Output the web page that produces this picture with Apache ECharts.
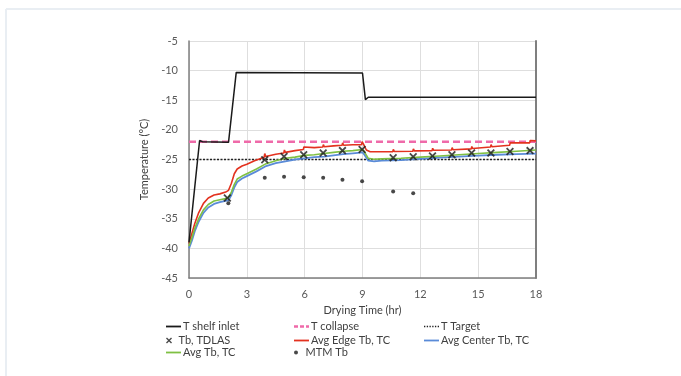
<!DOCTYPE html>
<html>
<head>
<meta charset="utf-8">
<script src="https://cdn.jsdelivr.net/npm/echarts@6/dist/echarts.min.js"></script>
<style>html,body{margin:0;padding:0;background:#fff;}#c{width:681px;height:376px;}</style>
</head>
<body>
<div id="c"></div>
<script>
// ---- data (time in hr, temperature in °C) ----
const xTicks = [0, 3, 6, 9, 12, 15, 18];
const yTicks = [-45, -40, -35, -30, -25, -20, -15, -10, -5];

const shelfInlet = [[0,-39.0],[0.55,-21.8],[0.7,-22.0],[2.05,-22.1],[2.45,-10.3],[9.0,-10.4],[9.15,-14.9],[9.3,-14.5],[18,-14.5]];
const tCollapse = [[0,-22],[18,-22]];
const tTarget = [[0,-25],[18,-25]];
const tdlas = [[1.99,-31.5],[3.93,-25.05],[4.93,-24.5],[5.95,-24.2],[6.96,-23.9],[7.96,-23.5],[8.98,-23.3],[10.59,-24.7],[11.63,-24.55],[12.63,-24.4],[13.64,-24.2],[14.66,-23.9],[15.66,-23.9],[16.65,-23.65],[17.69,-23.5]];
const edgeTC = [[0,-39.2],[0.15,-37.5],[0.3,-35.8],[0.5,-34.0],[0.75,-32.4],[1.0,-31.5],[1.3,-31.0],[1.6,-30.8],[1.9,-30.5],[2.05,-30.2],[2.2,-29.0],[2.35,-27.4],[2.5,-26.6],[2.75,-26.1],[3.0,-25.8],[3.4,-25.2],[3.9,-24.6],[3.93,-24.0],[3.98,-24.5],[4.5,-24.1],[4.92,-23.9],[4.95,-23.4],[5.0,-23.8],[5.5,-23.5],[5.93,-23.3],[5.96,-22.9],[6.01,-23.2],[6.5,-23.0],[6.94,-22.9],[6.97,-22.5],[7.02,-22.85],[7.5,-22.7],[7.94,-22.6],[7.97,-22.2],[8.02,-22.6],[8.5,-22.5],[8.95,-22.5],[8.98,-22.0],[9.05,-22.4],[9.2,-23.4],[9.4,-23.7],[10.0,-23.7],[10.57,-23.7],[10.6,-23.3],[10.65,-23.65],[11.61,-23.6],[11.64,-23.2],[11.69,-23.55],[12.61,-23.5],[12.64,-23.1],[12.69,-23.45],[13.62,-23.4],[13.65,-23.0],[13.7,-23.35],[14.64,-23.2],[14.67,-22.8],[14.72,-23.15],[15.64,-22.9],[15.67,-22.5],[15.72,-22.85],[16.63,-22.6],[16.66,-22.2],[16.71,-22.5],[17.67,-22.2],[17.7,-21.8],[17.75,-22.1],[18,-21.85]];
const centerTC = [[0,-40.0],[0.15,-38.7],[0.3,-37.1],[0.5,-35.5],[0.75,-34.0],[1.0,-33.1],[1.3,-32.5],[1.6,-32.2],[1.9,-32.0],[2.05,-31.9],[2.2,-31.0],[2.35,-29.7],[2.5,-28.8],[2.75,-28.2],[3.0,-27.8],[3.5,-27.0],[4.0,-26.1],[4.5,-25.6],[5.0,-25.3],[5.5,-25.0],[6.0,-24.8],[6.5,-24.6],[7.0,-24.5],[7.5,-24.3],[8.0,-24.1],[8.5,-23.95],[9.0,-23.8],[9.1,-24.2],[9.3,-25.2],[9.6,-25.3],[10,-25.2],[11,-25.1],[12,-24.9],[13,-24.7],[14,-24.5],[15,-24.35],[16,-24.2],[17,-24.1],[18,-24.0]];
const avgTC = [[0,-39.6],[0.15,-38.2],[0.3,-36.6],[0.5,-35.0],[0.75,-33.5],[1.0,-32.6],[1.3,-32.0],[1.6,-31.8],[1.9,-31.6],[2.05,-31.4],[2.2,-30.5],[2.35,-29.2],[2.5,-28.3],[2.75,-27.8],[3.0,-27.4],[3.5,-26.6],[4.0,-25.7],[4.5,-25.2],[5.0,-24.8],[5.5,-24.6],[6.0,-24.3],[6.5,-24.2],[7.0,-24.0],[7.5,-23.8],[8.0,-23.6],[8.5,-23.5],[9.0,-23.3],[9.1,-23.7],[9.3,-24.8],[9.6,-24.95],[10,-24.9],[11,-24.8],[12,-24.6],[13,-24.4],[14,-24.2],[15,-24.0],[16,-23.8],[17,-23.6],[18,-23.4]];
const mtm = [[2.04,-32.4],[3.93,-28.1],[4.93,-27.9],[5.95,-28.0],[6.96,-28.1],[7.96,-28.4],[8.98,-28.65],[10.59,-30.4],[11.63,-30.7]];

const seriesNames = ['T shelf inlet','T collapse','T Target','Tb, TDLAS','Avg Edge Tb, TC','Avg Center Tb, TC','Avg Tb, TC','MTM Tb'];

const XPATH = 'path://M0,1.6 L1.6,0 L5,3.4 L8.4,0 L10,1.6 L6.6,5 L10,8.4 L8.4,10 L5,6.6 L1.6,10 L0,8.4 L3.4,5 Z';
const SOLID = 'path://M0,0 H15 V1.8 H0 Z';
const DASHED = 'path://M0,0 H4 V2.4 H0 Z M6,0 H10 V2.4 H6 Z M12,0 H15 V2.4 H12 Z';
const DOTTED = 'path://M0,0h1.3v1.5h-1.3z M2.7,0h1.3v1.5h-1.3z M5.4,0h1.3v1.5h-1.3z M8.1,0h1.3v1.5h-1.3z M10.8,0h1.3v1.5h-1.3z M13.5,0h1.3v1.5h-1.3z';
const FONT = 'Lato, "Open Sans", sans-serif';

// legend layout: [left, top, icon, itemHeight]
const legendLayout = [
  [166, 321, SOLID, 10], [294, 321, DASHED, 10], [424, 321, DOTTED, 10],
  [166, 335, XPATH, 6], [294, 335, SOLID, 10], [424, 335, SOLID, 10],
  [166, 347, SOLID, 10], [294, 347, 'circle', 4]
];

const legends = seriesNames.map((n, i) => {
  const L = legendLayout[i];
  return {
    data: [{name: n, icon: L[2]}],
    left: L[0], top: L[1],
    itemWidth: 15, itemHeight: L[3], itemGap: 0, padding: 0,
    selectedMode: false,
    textStyle: {fontFamily: FONT, fontSize: 11, color: '#404040', padding: [0,0,0,-3]}
  };
});

const chart = echarts.init(document.getElementById('c'), null, {renderer: 'canvas'});
chart.setOption({
  backgroundColor: '#ffffff',
  animation: false,
  graphic: [
    {type: 'line', shape: {x1: 6, y1: 9, x2: 681, y2: 9}, style: {stroke: '#e9eef3', lineWidth: 2}},
    {type: 'line', shape: {x1: 6, y1: 9, x2: 6, y2: 376}, style: {stroke: '#e9eef3', lineWidth: 2}}
  ],
  grid: {left: 189, right: 145, top: 41, bottom: 98, containLabel: false},
  legend: legends,
  xAxis: {
    type: 'value', min: 0, max: 18, interval: 3,
    name: 'Drying Time (hr)', nameLocation: 'middle', nameGap: 22,
    nameTextStyle: {fontFamily: FONT, fontSize: 11, color: '#404040'},
    axisLine: {show: true, onZero: false, lineStyle: {color: '#7f7f7f', width: 1.5}},
    axisTick: {show: false},
    axisLabel: {fontFamily: FONT, fontSize: 11, color: '#595959', margin: 11},
    splitLine: {show: true, lineStyle: {color: '#dedede', width: 1}}
  },
  yAxis: [{
    type: 'value', min: -45, max: -5, interval: 5,
    name: 'Temperature (°C)', nameLocation: 'middle', nameGap: 30,
    nameTextStyle: {fontFamily: FONT, fontSize: 11, color: '#404040'},
    axisLine: {show: true, onZero: false, lineStyle: {color: '#7f7f7f', width: 1.5}},
    axisTick: {show: false},
    axisLabel: {fontFamily: FONT, fontSize: 11, color: '#595959', margin: 11},
    splitLine: {show: true, lineStyle: {color: '#dedede', width: 1}}
  }, {
    type: 'value', min: -45, max: -5, interval: 5, position: 'right',
    axisLine: {show: true, onZero: false, lineStyle: {color: '#7f7f7f', width: 2}},
    axisTick: {show: false}, axisLabel: {show: false}, splitLine: {show: false}
  }],
  series: [
    {name: 'T shelf inlet', type: 'line', data: shelfInlet, symbol: 'none', z: 5,
      lineStyle: {color: '#1a1a1a', width: 1.5}, itemStyle: {color: '#1a1a1a'}},
    {name: 'T collapse', type: 'line', data: tCollapse, symbol: 'none', z: 3,
      lineStyle: {color: '#ef6aa9', width: 2.5, type: [7, 4]}, itemStyle: {color: '#ef6aa9'}},
    {name: 'T Target', type: 'line', data: tTarget, symbol: 'none', z: 3,
      lineStyle: {color: '#222222', width: 1.5, type: [2, 1.5]}, itemStyle: {color: '#222222'}},
    {name: 'Tb, TDLAS', type: 'scatter', data: tdlas, symbol: XPATH, symbolSize: 8, z: 8,
      itemStyle: {color: '#1a1a1a'}},
    {name: 'Avg Edge Tb, TC', type: 'line', data: edgeTC, symbol: 'none', z: 4,
      lineStyle: {color: '#e3321f', width: 1.6}, itemStyle: {color: '#e3321f'}},
    {name: 'Avg Center Tb, TC', type: 'line', data: centerTC, symbol: 'none', z: 4,
      lineStyle: {color: '#5a8bd8', width: 1.8}, itemStyle: {color: '#5a8bd8'}},
    {name: 'Avg Tb, TC', type: 'line', data: avgTC, symbol: 'none', z: 4,
      lineStyle: {color: '#7fc043', width: 1.6}, itemStyle: {color: '#7fc043'}},
    {name: 'MTM Tb', type: 'scatter', data: mtm, symbol: 'circle', symbolSize: 4, z: 8,
      itemStyle: {color: '#1a1a1a'}}
  ]
});
</script>
</body>
</html>
